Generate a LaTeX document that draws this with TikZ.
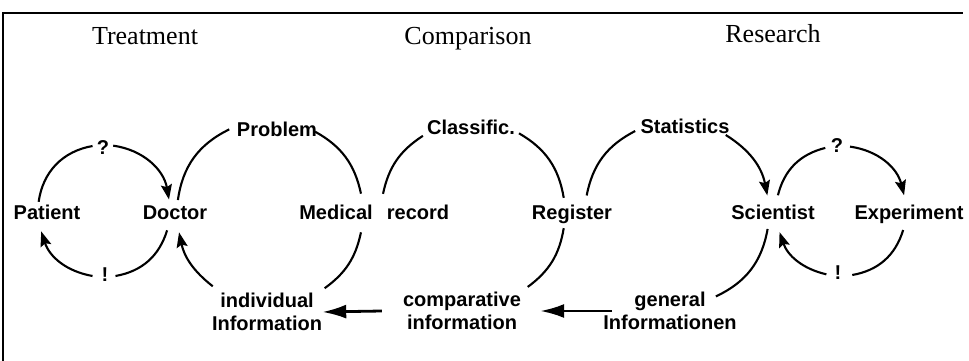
\documentclass[tikz,border=0pt]{standalone}
\usepackage{fontspec}
\setmainfont{Liberation Serif}
\newfontfamily\labfont{Liberation Sans}
\usetikzlibrary{calc,arrows.meta}
\begin{document}
\begin{tikzpicture}[x=1pt,y=1pt,
  title/.style={font=\fontsize{26}{30}\selectfont, anchor=base, inner sep=0pt},
  lab/.style={font=\labfont\bfseries\fontsize{20}{23}\selectfont, anchor=base, inner sep=0pt},
  labtwo/.style={lab, align=center, anchor=center},
  arcline/.style={line width=2.1pt},
  arr/.style={arcline, -{Stealth[length=15pt,width=11pt,inset=2.5pt]}},
  bigarr/.style={line width=2.8pt, -{Latex[length=24pt,width=14pt]}},
  frame/.style={line width=1.3pt}
]
\useasboundingbox (0,0) rectangle (969,361);
\draw[frame] (3,0) -- (3,348) -- (963,348);

% titles
\node[title] (tT) at (145,316) {Treatment};
\node[title] (tC) at (468,316) {Comparison};
\node[title] (tR) at (773,318) {Research};

% labels
\node[lab] (patient) at (47,141.5) {Patient};
\node[lab] (doctor) at (175,141.5) {Doctor};
\node[lab] (medical) at (336,141.5) {Medical};
\node[lab] (record) at (418,141.5) {record};
\node[lab] (register) at (572,141.5) {Register};
\node[lab] (scientist) at (773,141.5) {Scientist};
\node[lab] (experiment) at (909,141.5) {Experiment};
\node[lab] (problem) at (277,224) {Problem};
\node[lab] (classific) at (471,226) {Classific.};
\node[lab] (statistics) at (685,227) {Statistics};
\node[lab] (q1) at (103,206) {?};
\node[lab] (e1) at (105,79) {!};
\node[lab] (q2) at (837,208) {?};
\node[lab] (e2) at (838,81) {!};
\node[labtwo] (indiv) at (267,49) {individual\\Information};
\node[labtwo] (comp) at (462,50) {comparative\\information};
\node[labtwo] (gen) at (670,50) {general\\Informationen};

% circle centres
\coordinate (Lc) at (104,150);
\coordinate (C1) at (270,148);
\coordinate (C2) at (473,148);
\coordinate (C3) at (677,148);
\coordinate (Rc) at (841,150);

% left loop
\coordinate (p1a) at ($(Lc)+(172:66)$);
\coordinate (p1b) at ($(Lc)+(100:66)$);
\coordinate (p2a) at ($(Lc)+(82:66)$);
\coordinate (p2b) at ($(Lc)+(10:66)$);
\coordinate (p3a) at ($(Lc)+(-17:66)$);
\coordinate (p3b) at ($(Lc)+(-80:66)$);
\coordinate (p4a) at ($(Lc)+(-100:66)$);
\coordinate (p4b) at ($(Lc)+(-162:66)$);
\draw[arcline] (p1a) to[out=82,in=190] (p1b);
\draw[arr] (p2a) to[out=-8,in=100] (p2b);
\draw[arcline] (p3a) to[out=-107,in=10] (p3b);
\draw[arr] (p4a) to[out=170,in=288] (p4b);

% circle 1
\coordinate (c1a) at ($(C1)+(172:93)$);
\coordinate (c1b) at ($(C1)+(116:93)$);
\coordinate (c1c) at ($(C1)+(61:93)$);
\coordinate (c1d) at ($(C1)+(12:93)$);
\coordinate (c1e) at ($(C1)+(-12:93)$);
\coordinate (c1f) at ($(C1)+(-54:93)$);
\coordinate (c1g) at ($(C1)+(-128:93)$);
\coordinate (c1h) at ($(C1)+(-168:93)$);
\draw[arcline] (c1a) to[out=82,in=206] (c1b);
\draw[arcline] (c1c) to[out=-29,in=102] (c1d);
\draw[arcline] (c1e) to[out=-102,in=36] (c1f);
\draw[arr] (c1g) to[out=142,in=-78] (c1h);

% circle 2
\coordinate (c2a) at ($(C2)+(168:92)$);
\coordinate (c2b) at ($(C2)+(123:92)$);
\coordinate (c2c) at ($(C2)+(60:92)$);
\coordinate (c2d) at ($(C2)+(9.5:92)$);
\coordinate (c2e) at ($(C2)+(-9.5:92)$);
\coordinate (c2f) at ($(C2)+(-53.5:92)$);
\draw[arcline] (c2a) to[out=78,in=213] (c2b);
\draw[arcline] (c2c) to[out=-30,in=99.5] (c2d);
\draw[arcline] (c2e) to[out=-99.5,in=36.5] (c2f);

% circle 3
\coordinate (c3a) at ($(C3)+(169:92)$);
\coordinate (c3b) at ($(C3)+(117:92)$);
\coordinate (c3c) at ($(C3)+(58:92)$);
\coordinate (c3d) at ($(C3)+(11:92)$);
\coordinate (c3e) at ($(C3)+(-10:92)$);
\coordinate (c3f) at ($(C3)+(-65:92)$);
\draw[arcline] (c3a) to[out=79,in=207] (c3b);
\draw[arr] (c3c) to[out=-32,in=101] (c3d);
\draw[arcline] (c3e) to[out=-100,in=25] (c3f);

% right loop
\coordinate (r1a) at ($(Rc)+(166:65)$);
\coordinate (r1b) at ($(Rc)+(104:65)$);
\coordinate (r2a) at ($(Rc)+(82:65)$);
\coordinate (r2b) at ($(Rc)+(14:65)$);
\coordinate (r3a) at ($(Rc)+(-17:65)$);
\coordinate (r3b) at ($(Rc)+(-80:65)$);
\coordinate (r4a) at ($(Rc)+(-103:65)$);
\coordinate (r4b) at ($(Rc)+(-161:65)$);
\draw[arcline] (r1a) to[out=76,in=194] (r1b);
\draw[arr] (r2a) to[out=-8,in=104] (r2b);
\draw[arcline] (r3a) to[out=-107,in=10] (r3b);
\draw[arr] (r4a) to[out=167,in=-71] (r4b);

% information flow
\draw[bigarr] ([xshift=-21pt]comp.west) -- (indiv.east);
\draw[bigarr] ([xshift=9pt]gen.west) -- ([xshift=19pt]comp.east);
\end{tikzpicture}
\end{document}
